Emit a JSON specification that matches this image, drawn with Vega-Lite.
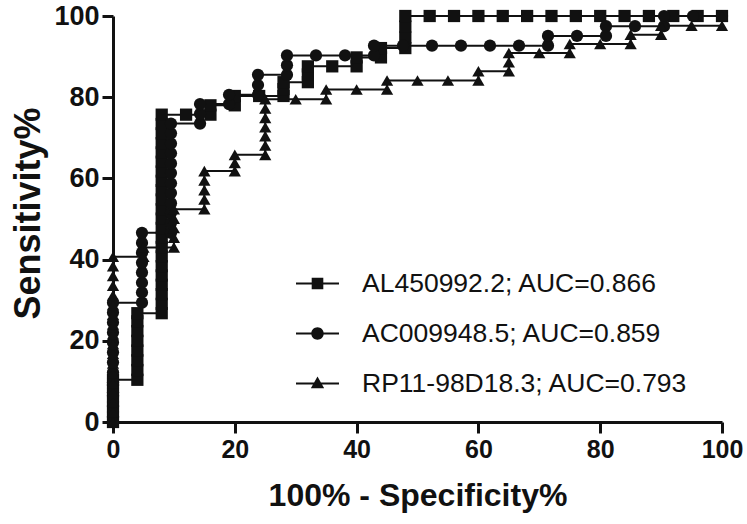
{
  "$schema": "https://vega.github.io/schema/vega-lite/v6.json",
  "width": 609,
  "height": 406,
  "autosize": "none",
  "padding": {"left": 113, "top": 16, "right": 25, "bottom": 102},
  "background": "white",
  "config": {
    "view": {"stroke": null},
    "font": "Liberation Sans",
    "axis": {
      "domainColor": "#111", "domainWidth": 3,
      "tickColor": "#111", "tickWidth": 3, "tickSize": 11,
      "grid": false,
      "labelFont": "Liberation Sans", "labelFontWeight": "bold", "labelFontSize": 25, "labelColor": "#111",
      "titleFont": "Liberation Sans", "titleFontWeight": "bold", "titleFontSize": 32, "titleColor": "#111",
      "labelOverlap": false, "labelFlush": false
    }
  },
  "data": {"values": [
    {"g":"A","x":0,"y":0},{"g":"A","x":0,"y":2.6},{"g":"A","x":0,"y":5.2},{"g":"A","x":0,"y":7.8},{"g":"A","x":0,"y":10.4},
    {"g":"A","x":4,"y":10.4},{"g":"A","x":4,"y":12.8},{"g":"A","x":4,"y":15.2},{"g":"A","x":4,"y":17.6},{"g":"A","x":4,"y":20},{"g":"A","x":4,"y":22.4},{"g":"A","x":4,"y":24.8},{"g":"A","x":4,"y":26.8},
    {"g":"A","x":8,"y":26.8},{"g":"A","x":8,"y":29.1},{"g":"A","x":8,"y":31.5},{"g":"A","x":8,"y":33.8},{"g":"A","x":8,"y":36.1},{"g":"A","x":8,"y":38.4},{"g":"A","x":8,"y":40.8},{"g":"A","x":8,"y":43.1},{"g":"A","x":8,"y":45.4},{"g":"A","x":8,"y":47.8},{"g":"A","x":8,"y":50.1},{"g":"A","x":8,"y":52.4},{"g":"A","x":8,"y":54.8},{"g":"A","x":8,"y":57.1},{"g":"A","x":8,"y":59.4},{"g":"A","x":8,"y":61.7},{"g":"A","x":8,"y":64.1},{"g":"A","x":8,"y":66.4},{"g":"A","x":8,"y":68.7},{"g":"A","x":8,"y":71.1},{"g":"A","x":8,"y":73.4},{"g":"A","x":8,"y":75.7},
    {"g":"A","x":12,"y":75.7},{"g":"A","x":16,"y":75.7},{"g":"A","x":16,"y":78},{"g":"A","x":20,"y":78},{"g":"A","x":20,"y":80.3},{"g":"A","x":24,"y":80.3},{"g":"A","x":28,"y":80.3},{"g":"A","x":28,"y":82},{"g":"A","x":28,"y":83.7},{"g":"A","x":32,"y":83.7},{"g":"A","x":32,"y":85.6},{"g":"A","x":32,"y":87.6},{"g":"A","x":36,"y":87.6},{"g":"A","x":40,"y":87.6},{"g":"A","x":40,"y":89.8},{"g":"A","x":44,"y":89.8},{"g":"A","x":44,"y":92.1},{"g":"A","x":48,"y":92.1},{"g":"A","x":48,"y":94.7},{"g":"A","x":48,"y":97.4},{"g":"A","x":48,"y":100},
    {"g":"A","x":52,"y":100},{"g":"A","x":56,"y":100},{"g":"A","x":60,"y":100},{"g":"A","x":64,"y":100},{"g":"A","x":68,"y":100},{"g":"A","x":72,"y":100},{"g":"A","x":76,"y":100},{"g":"A","x":80,"y":100},{"g":"A","x":84,"y":100},{"g":"A","x":88,"y":100},{"g":"A","x":92,"y":100},{"g":"A","x":96,"y":100},{"g":"A","x":100,"y":100},

    {"g":"B","x":0,"y":0},{"g":"B","x":0,"y":2.45},{"g":"B","x":0,"y":4.9},{"g":"B","x":0,"y":7.35},{"g":"B","x":0,"y":9.8},{"g":"B","x":0,"y":12.25},{"g":"B","x":0,"y":14.7},{"g":"B","x":0,"y":17.15},{"g":"B","x":0,"y":19.6},{"g":"B","x":0,"y":22.05},{"g":"B","x":0,"y":24.5},{"g":"B","x":0,"y":26.95},{"g":"B","x":0,"y":29.4},
    {"g":"B","x":4.76,"y":29.4},{"g":"B","x":4.76,"y":31.9},{"g":"B","x":4.76,"y":34.3},{"g":"B","x":4.76,"y":36.8},{"g":"B","x":4.76,"y":39.2},{"g":"B","x":4.76,"y":41.7},{"g":"B","x":4.76,"y":44.1},{"g":"B","x":4.76,"y":46.6},
    {"g":"B","x":9.52,"y":46.6},{"g":"B","x":9.52,"y":49},{"g":"B","x":9.52,"y":51.5},{"g":"B","x":9.52,"y":53.9},{"g":"B","x":9.52,"y":56.4},{"g":"B","x":9.52,"y":58.8},{"g":"B","x":9.52,"y":61.3},{"g":"B","x":9.52,"y":63.7},{"g":"B","x":9.52,"y":66.2},{"g":"B","x":9.52,"y":68.6},{"g":"B","x":9.52,"y":71.1},{"g":"B","x":9.52,"y":73.5},
    {"g":"B","x":14.29,"y":73.5},{"g":"B","x":14.29,"y":75.9},{"g":"B","x":14.29,"y":78.3},
    {"g":"B","x":19.05,"y":78.3},{"g":"B","x":19.05,"y":80.6},
    {"g":"B","x":23.81,"y":80.6},{"g":"B","x":23.81,"y":83},{"g":"B","x":23.81,"y":85.5},
    {"g":"B","x":28.57,"y":85.5},{"g":"B","x":28.57,"y":87.9},{"g":"B","x":28.57,"y":90.3},
    {"g":"B","x":33.33,"y":90.3},{"g":"B","x":38.1,"y":90.3},{"g":"B","x":42.86,"y":90.3},{"g":"B","x":42.86,"y":92.7},{"g":"B","x":47.62,"y":92.7},{"g":"B","x":52.38,"y":92.7},{"g":"B","x":57.14,"y":92.7},{"g":"B","x":61.9,"y":92.7},{"g":"B","x":66.67,"y":92.7},{"g":"B","x":71.43,"y":92.7},{"g":"B","x":71.43,"y":95.1},{"g":"B","x":76.19,"y":95.1},{"g":"B","x":80.95,"y":95.1},{"g":"B","x":80.95,"y":97.5},{"g":"B","x":85.71,"y":97.5},{"g":"B","x":90.48,"y":97.5},{"g":"B","x":90.48,"y":100},{"g":"B","x":95.24,"y":100},{"g":"B","x":100,"y":100},

    {"g":"C","x":0,"y":0},{"g":"C","x":0,"y":2.4},{"g":"C","x":0,"y":4.8},{"g":"C","x":0,"y":7.2},{"g":"C","x":0,"y":9.6},{"g":"C","x":0,"y":12},{"g":"C","x":0,"y":14.4},{"g":"C","x":0,"y":16.8},{"g":"C","x":0,"y":19.2},{"g":"C","x":0,"y":21.6},{"g":"C","x":0,"y":24},{"g":"C","x":0,"y":26.4},{"g":"C","x":0,"y":28.8},{"g":"C","x":0,"y":31.2},{"g":"C","x":0,"y":33.6},{"g":"C","x":0,"y":36},{"g":"C","x":0,"y":38.4},{"g":"C","x":0,"y":40.7},
    {"g":"C","x":5,"y":40.7},{"g":"C","x":5,"y":43},
    {"g":"C","x":10,"y":43},{"g":"C","x":10,"y":45.4},{"g":"C","x":10,"y":47.8},{"g":"C","x":10,"y":50.1},{"g":"C","x":10,"y":52.4},
    {"g":"C","x":15,"y":52.4},{"g":"C","x":15,"y":54.8},{"g":"C","x":15,"y":57.1},{"g":"C","x":15,"y":59.5},{"g":"C","x":15,"y":61.8},
    {"g":"C","x":20,"y":61.8},{"g":"C","x":20,"y":63.8},{"g":"C","x":20,"y":65.8},
    {"g":"C","x":25,"y":65.8},{"g":"C","x":25,"y":68.1},{"g":"C","x":25,"y":70.4},{"g":"C","x":25,"y":72.6},{"g":"C","x":25,"y":74.9},{"g":"C","x":25,"y":77.2},{"g":"C","x":25,"y":79.5},
    {"g":"C","x":30,"y":79.5},{"g":"C","x":35,"y":79.5},{"g":"C","x":35,"y":81.9},{"g":"C","x":40,"y":81.9},{"g":"C","x":45,"y":81.9},{"g":"C","x":45,"y":84.1},{"g":"C","x":50,"y":84.1},{"g":"C","x":55,"y":84.1},{"g":"C","x":60,"y":84.1},{"g":"C","x":60,"y":86.4},{"g":"C","x":65,"y":86.4},{"g":"C","x":65,"y":88.6},{"g":"C","x":65,"y":90.9},{"g":"C","x":70,"y":90.9},{"g":"C","x":75,"y":90.9},{"g":"C","x":75,"y":93.1},{"g":"C","x":80,"y":93.1},{"g":"C","x":85,"y":93.1},{"g":"C","x":85,"y":95.4},{"g":"C","x":90,"y":95.4},{"g":"C","x":90,"y":97.6},{"g":"C","x":95,"y":97.6},{"g":"C","x":100,"y":97.6},{"g":"C","x":100,"y":100}
  ]},
  "encoding": {
    "x": {"field": "x", "type": "quantitative", "scale": {"domain": [0, 100], "nice": false, "zero": false},
          "axis": {"values": [0, 20, 40, 60, 80, 100], "title": "100% - Specificity%", "labelPadding": 4, "titlePadding": 18}},
    "y": {"field": "y", "type": "quantitative", "scale": {"domain": [0, 100], "nice": false},
          "axis": {"values": [0, 20, 40, 60, 80, 100], "title": "Sensitivity%", "labelPadding": 3, "labelFontSize": 27, "titlePadding": 6, "titleFontSize": 36, "titleY": 197}}
  },
  "layer": [
    {
      "mark": {"type": "line", "color": "#111", "strokeWidth": 2},
      "encoding": {
        "detail": {"field": "g"},
        "order": [{"field": "x", "type": "quantitative"}, {"field": "y", "type": "quantitative"}]
      }
    },
    {
      "mark": {"type": "point", "filled": true, "color": "#111", "opacity": 1, "size": 150},
      "encoding": {
        "shape": {"field": "g", "type": "nominal", "scale": {"domain": ["A", "B", "C"], "range": ["square", "circle", "triangle-up"]}, "legend": null}
      }
    },
    {
      "mark": {"type": "point", "filled": true, "color": "#111", "opacity": 0, "size": 1849},
      "encoding": {
        "shape": {"field": "g", "type": "nominal",
          "scale": {"domain": ["A", "B", "C"], "range": [
            "M-1,-0.05H1V0.05H-1ZM-0.27,-0.27H0.27V0.27H-0.27Z",
            "M-1,-0.05H1V0.05H-1ZM0.29,0A0.29,0.29,0,1,1,-0.29,0A0.29,0.29,0,1,1,0.29,0Z",
            "M-1,-0.05H1V0.05H-1ZM0,-0.32L0.31,0.22L-0.31,0.22Z"
          ]},
          "legend": {
            "orient": "none", "legendX": 182, "legendY": 245, "title": null,
            "symbolSize": 1849, "symbolFillColor": "#111",
            "labelOffset": 22, "rowPadding": 14,
            "labelFont": "Liberation Sans", "labelFontSize": 26.5, "labelColor": "#111", "labelLimit": 400,
            "labelExpr": "datum.label == 'A' ? 'AL450992.2; AUC=0.866' : datum.label == 'B' ? 'AC009948.5; AUC=0.859' : 'RP11-98D18.3; AUC=0.793'",
            "encode": {"symbols": {"update": {"opacity": {"value": 1}, "fill": {"value": "#111"}}}}
          }
        }
      }
    }
  ],
  "resolve": {"scale": {"shape": "independent"}, "legend": {"shape": "independent"}}
}
